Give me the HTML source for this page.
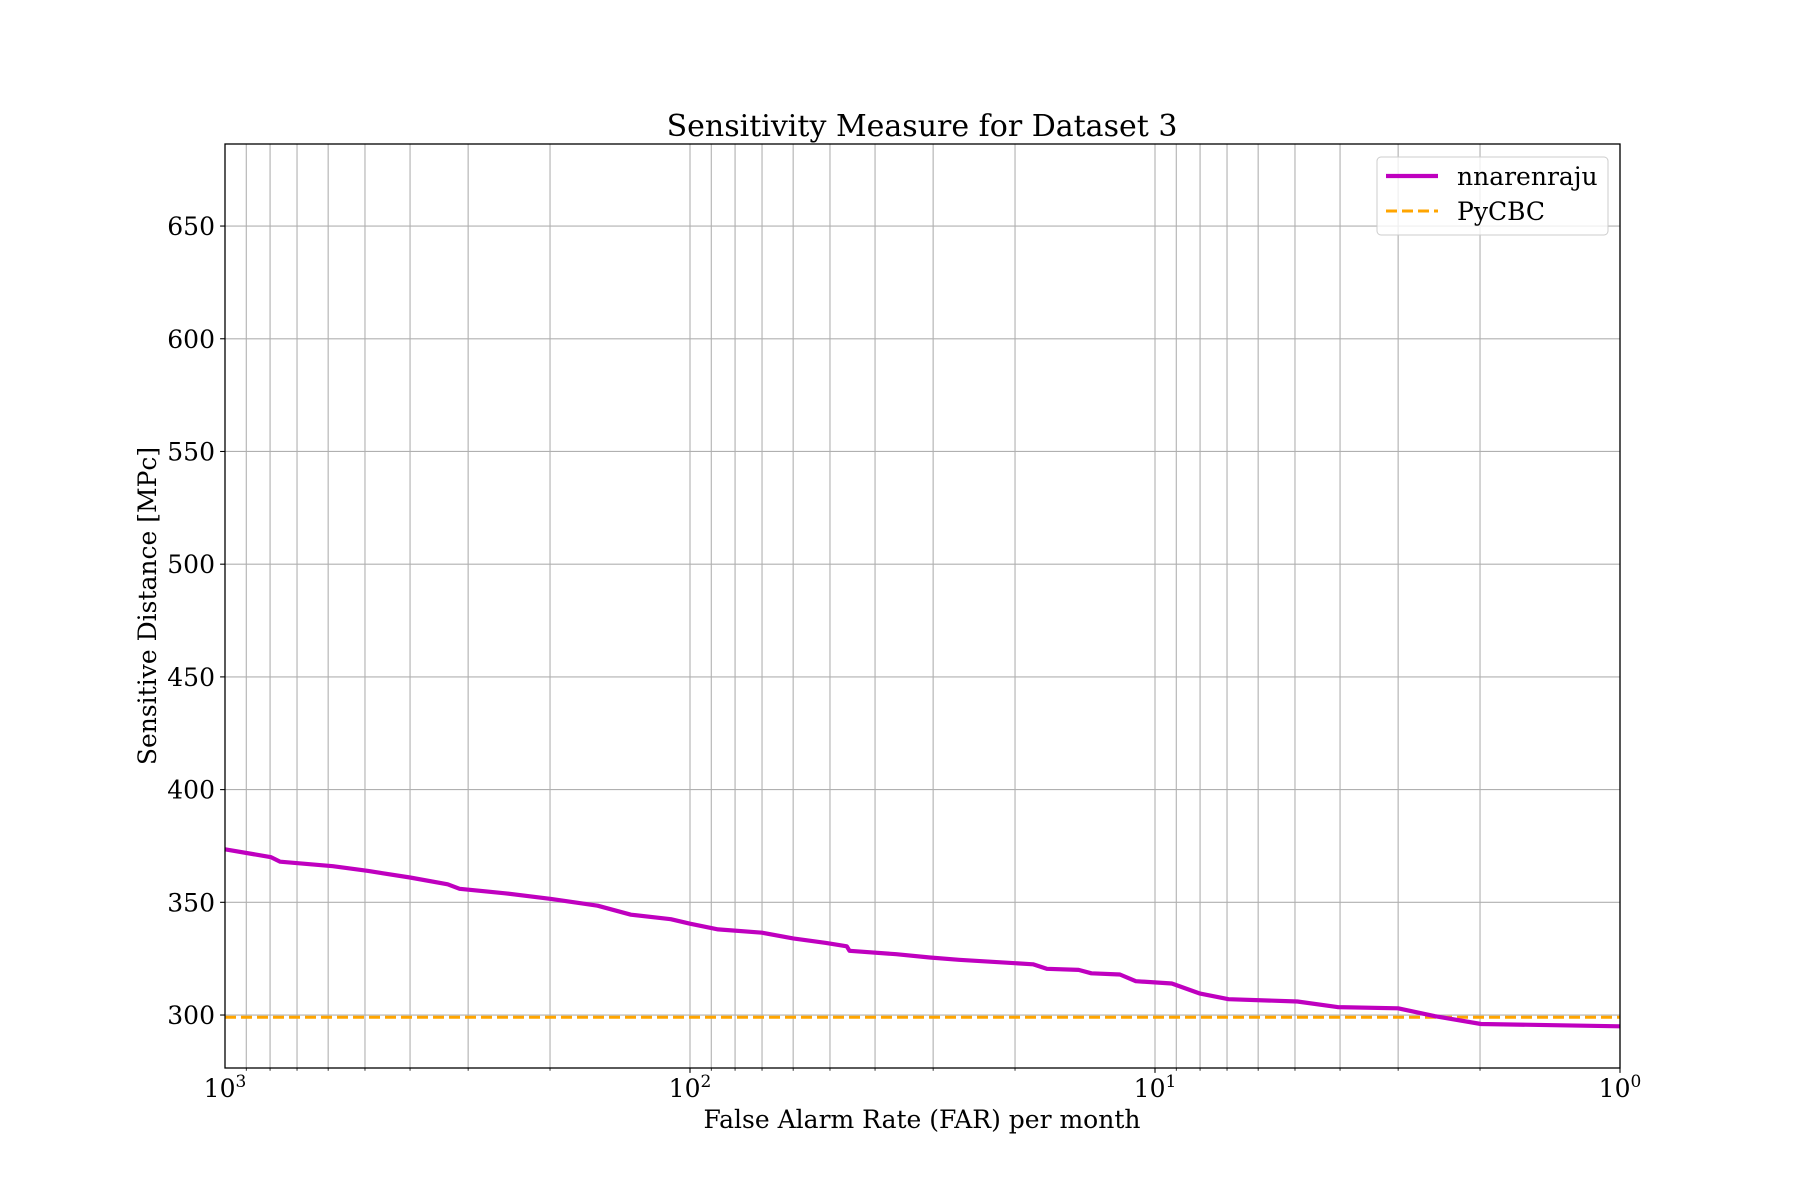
<!DOCTYPE html>
<html><head><meta charset="utf-8"><style>
body{margin:0;background:#fff}
svg{display:block}
text{font-family:"DejaVu Serif","Liberation Serif",serif;fill:#000}
</style></head><body>
<svg id="chart" width="1800" height="1200" viewBox="0 0 1800 1200" xmlns="http://www.w3.org/2000/svg">
<rect width="1800" height="1200" fill="#fff"/>
<g id="grid"></g>
<g id="series"></g>
<rect x="225" y="144" width="1395" height="924" fill="none" stroke="#000" stroke-width="1.3"/>
<g id="ticks"></g>
<text x="922" y="136" font-size="30" text-anchor="middle">Sensitivity Measure for Dataset 3</text>
<text x="922" y="1128" font-size="25" text-anchor="middle">False Alarm Rate (FAR) per month</text>
<text transform="translate(156,606) rotate(-90)" font-size="25" text-anchor="middle">Sensitive Distance [MPc]</text>
<g>
<rect x="1377" y="157" width="231" height="78" rx="4" fill="#fff" fill-opacity="0.8" stroke="#ccc" stroke-width="1"/>
<line x1="1386" y1="176" x2="1438" y2="176" stroke="#bf00bf" stroke-width="4.2"/>
<text x="1457" y="185" font-size="25">nnarenraju</text>
<line x1="1386" y1="211" x2="1438" y2="211" stroke="#ffa500" stroke-width="3" stroke-dasharray="11,5"/>
<text x="1457" y="220" font-size="25">PyCBC</text>
</g>
</svg>
<script>
const farValues=[1000,796,761,586,494,400,332,313,250,199,158,134,110,100,87,70,60,51,46,45.4,36,30.5,26.4,18.3,17.1,14.6,13.7,11.9,11.0,9.2,8.0,6.95,4.94,4.05,3.0,2.5,1.99,1];
const distValues=[373.5,370,368,366,364,361,358,356,354,351.5,348.5,344.5,342.5,340.5,338,336.5,334,332,330.5,328.5,327,325.5,324.5,322.5,320.5,320,318.5,318,315,314,309.5,307,306,303.5,303,299.5,296,295];
const pycbcValue=[299];
const yTicks=[300,350,400,450,500,550,600,650];
const xDecades=[3,2,1,0];
const X0=225,X1=1620,Y0=144,Y1=1068,YMIN=276.5,YMAX=686.4;
const NS="http://www.w3.org/2000/svg";
function xs(v){return X0+(3-Math.log10(v))/3*(X1-X0);}
function ys(v){return Y1-(v-YMIN)/(YMAX-YMIN)*(Y1-Y0);}
function mk(tag,attrs,parent){const e=document.createElementNS(NS,tag);for(const k in attrs)e.setAttribute(k,attrs[k]);parent.appendChild(e);return e;}
const grid=document.getElementById('grid'),ticks=document.getElementById('ticks'),series=document.getElementById('series');
for(const d of xDecades){
  for(let m=1;m<=9;m++){
    const v=m*Math.pow(10,d-1);
    if(v<1||v>1000)continue;
    const x=xs(v);
    const g=mk('line',{x1:x,x2:x,y1:Y0,y2:Y1,stroke:'#b0b0b0','stroke-width':1.1},grid);
    
    
    const t=mk('line',{x1:x,x2:x,y1:Y1,y2:Y1+(m===1?4.9:2.8),stroke:'#000','stroke-width':m===1?1.1:0.8},ticks);
    
    
  }
}
for(const d of xDecades){
  const x=xs(Math.pow(10,d));
  const tx=mk('text',{x:x,y:1097,'font-size':25,'text-anchor':'middle'},ticks);
  
  
  tx.textContent='10';
  const sp=mk('tspan',{dy:-10,'font-size':17},tx);
  sp.textContent=String(d);
}
for(const v of yTicks){
  const y=ys(v);
  const g=mk('line',{x1:X0,x2:X1,y1:y,y2:y,stroke:'#b0b0b0','stroke-width':1.1},grid);
  
  
  const t=mk('line',{x1:X0-4.9,x2:X0,y1:y,y2:y,stroke:'#000','stroke-width':1.1},ticks);
  
  
  const tx=mk('text',{x:X0-10,y:y+9,'font-size':25,'text-anchor':'end'},ticks);
  
  
  tx.textContent=String(v);
}
const py=ys(pycbcValue[0]);
const pl=mk('line',{x1:X0,x2:X1,y1:py,y2:py,stroke:'#ffa500','stroke-width':3,'stroke-dasharray':'11,5'},series);


let d='';
farValues.forEach((f,i)=>{d+=(i?'L':'M')+xs(f).toFixed(1)+','+ys(distValues[i]).toFixed(1);});
const nl=mk('path',{d:d,fill:'none',stroke:'#bf00bf','stroke-width':4.2,'stroke-linejoin':'round'},series);


</script>
</body></html>
